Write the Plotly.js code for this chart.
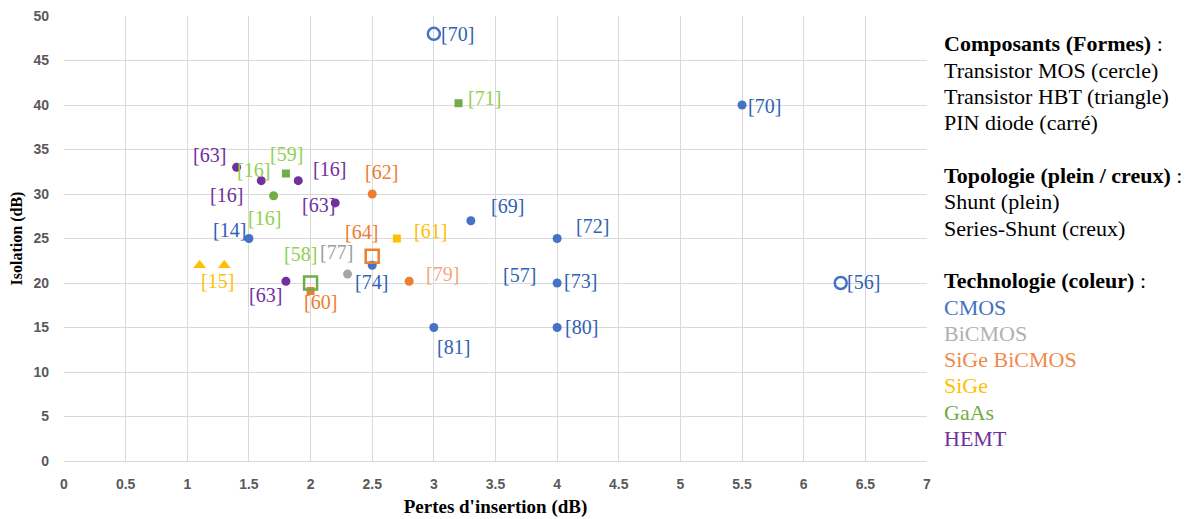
<!DOCTYPE html>
<html>
<head>
<meta charset="utf-8">
<script src="https://cdn.plot.ly/plotly-3.0.1.min.js"></script>
<style>html,body{margin:0;padding:0;background:#fff;}#chart{width:1192px;height:519px;}</style>
</head>
<body>
<div id="chart"></div>
<script>
// ---- Data ----
const pointX     = [3.0, 3.2, 5.5, 6.3, 1.4, 1.6, 1.8, 1.9, 1.7, 2.2, 2.5, 1.5, 2.7, 3.3, 2.5, 2.5, 2.3, 2.8, 2.0, 2.0, 1.8, 1.1, 1.3, 4.0, 4.0, 4.0, 3.0];
const pointY     = [48, 40.2, 40, 20, 33, 31.5, 32.3, 31.5, 29.8, 29, 30, 25, 25, 27, 23, 22, 21, 20.2, 20, 19.1, 20.2, 22, 22, 25, 20, 15, 15];
const pointTech  = ['CMOS','GaAs','CMOS','CMOS','HEMT','HEMT','GaAs','HEMT','GaAs','HEMT','SiGe BiCMOS','CMOS','SiGe','CMOS','SiGe BiCMOS','CMOS','BiCMOS','SiGe BiCMOS','GaAs','SiGe BiCMOS','HEMT','SiGe','SiGe','CMOS','CMOS','CMOS','CMOS'];
const pointShape = ['circle','square','circle','circle','circle','circle','square','circle','circle','circle','circle','circle','square','circle','square','circle','circle','circle','square','square','circle','triangle','triangle','circle','circle','circle','circle'];
const pointFill  = ['open','filled','filled','open','filled','filled','filled','filled','filled','filled','filled','filled','filled','filled','open','filled','filled','filled','open','filled','filled','filled','filled','filled','filled','filled','filled'];

const refText  = ['[70]','[71]','[70]','[56]','[63]','[16]','[59]','[16]','[62]','[16]','[63]','[69]','[14]','[16]','[64]','[61]','[72]','[58]','[77]','[74]','[79]','[15]','[63]','[60]','[57]','[73]','[80]','[81]'];
const refX     = [3.193, 3.412, 5.678, 6.486, 1.178, 1.535, 1.801, 2.153, 2.578, 1.319, 2.061, 3.594, 1.340, 1.630, 2.410, 2.976, 4.287, 1.915, 2.207, 2.497, 3.074, 1.243, 1.636, 2.077, 3.694, 4.189, 4.195, 3.160];
const refY     = [47.94, 40.74, 39.91, 20.11, 34.36, 32.68, 34.48, 32.76, 32.49, 29.94, 28.74, 28.63, 25.93, 27.31, 25.74, 25.85, 26.38, 23.31, 23.49, 20.11, 21.06, 20.22, 18.62, 17.86, 20.87, 20.19, 15.05, 12.80];
const refGroup = ['CMOS','GaAs','CMOS','CMOS','HEMT','GaAs','GaAs','HEMT','SiGe BiCMOS','HEMT','HEMT','CMOS','CMOS','GaAs','SiGe BiCMOS','SiGe','CMOS','GaAs','BiCMOS','CMOS','SiGe BiCMOS light','SiGe','HEMT','SiGe BiCMOS','CMOS','CMOS','CMOS','CMOS'];

const xTickVals = [0,0.5,1,1.5,2,2.5,3,3.5,4,4.5,5,5.5,6,6.5,7];
const xTickText = ['0','0.5','1','1.5','2','2.5','3','3.5','4','4.5','5','5.5','6','6.5','7'];
const yTickVals = [0,5,10,15,20,25,30,35,40,45,50];
const yTickText = ['0','5','10','15','20','25','30','35','40','45','50'];

const keyLines = [
  ['Composants (Formes)', 'head'],
  ['Transistor MOS (cercle)', 'text'],
  ['Transistor HBT (triangle)', 'text'],
  ['PIN diode (carré)', 'text'],
  ['', 'blank'],
  ['Topologie (plein / creux)', 'head'],
  ['Shunt (plein)', 'text'],
  ['Series-Shunt (creux)', 'text'],
  ['', 'blank'],
  ['Technologie (coleur)', 'head'],
  ['CMOS', 'CMOS'],
  ['BiCMOS', 'BiCMOS'],
  ['SiGe BiCMOS', 'SiGe BiCMOS'],
  ['SiGe', 'SiGe'],
  ['GaAs', 'GaAs'],
  ['HEMT', 'HEMT']
];

// ---- Styles ----
const markerColor = {'CMOS':'#4472c4','BiCMOS':'#a5a5a5','SiGe BiCMOS':'#ed7d31','SiGe':'#ffc000','GaAs':'#70ad47','HEMT':'#7030a0'};
const labelColor  = {'CMOS':'#2f62b6','BiCMOS':'#9e9e9e','SiGe BiCMOS':'#ed7d31','SiGe BiCMOS light':'#f6a57c','SiGe':'#ffc000','GaAs':'#92d050','HEMT':'#7030a0'};
const keyColor    = {'CMOS':'#4472c4','BiCMOS':'#b0b0b0','SiGe BiCMOS':'#f08a4b','SiGe':'#ffc000','GaAs':'#70ad47','HEMT':'#7030a0'};
const symbolOf = {circle:'circle', square:'square', triangle:'triangle-up'};
const sizeOf = {'circle|filled':9,'circle|open':12,'square|filled':8,'square|open':13,'triangle|filled':11};

// ---- Build traces grouped by (tech, shape, fill) ----
const groups = {};
const order = [];
for (let i = 0; i < pointX.length; i++) {
  const k = pointTech[i] + '|' + pointShape[i] + '|' + pointFill[i];
  if (!groups[k]) { groups[k] = {x:[], y:[], tech:pointTech[i], shape:pointShape[i], fill:pointFill[i]}; order.push(k); }
  groups[k].x.push(pointX[i]);
  groups[k].y.push(pointY[i]);
}
order.sort((a,b) => (groups[a].fill === 'open') - (groups[b].fill === 'open'));
const traces = order.map(k => {
  const g = groups[k];
  const open = g.fill === 'open';
  return {
    type:'scatter', mode:'markers', x:g.x, y:g.y, showlegend:false, hoverinfo:'x+y',
    marker:{
      symbol: symbolOf[g.shape] + (open ? '-open' : ''),
      size: sizeOf[g.shape + '|' + g.fill],
      color: markerColor[g.tech],
      line: {width: open ? 2.5 : 0, color: markerColor[g.tech]}
    },
    cliponaxis:false
  };
});

// ---- Annotations: reference labels ----
const annotations = refText.map((t, i) => ({
  x: refX[i], y: refY[i], xref:'x', yref:'y', text: t, showarrow:false,
  xanchor:'center', yanchor:'middle',
  font:{family:'"Liberation Serif", "Times New Roman", serif', size:20, color: labelColor[refGroup[i]]}
}));

// ---- Key text on the right ----
const plotL = 64, plotT = 16, plotW = 1192 - 64 - 265, plotH = 519 - 16 - 58;
keyLines.forEach((ln, i) => {
  if (ln[1] === 'blank') return;
  const py = 44 + i * 26.3;
  const head = ln[1] === 'head';
  const col = (ln[1] === 'head' || ln[1] === 'text') ? '#000000' : keyColor[ln[1]];
  annotations.push({
    xref:'paper', yref:'paper', x:(942 - plotL) / plotW, y:(plotT + plotH - py) / plotH,
    xanchor:'left', yanchor:'middle', showarrow:false,
    text: head ? ('<b>' + ln[0] + '</b> :') : ln[0],
    font:{family:'"Liberation Serif", "Times New Roman", serif', size:22, color:col}
  });
});

const layout = {
  width:1192, height:519,
  margin:{l:64, r:265, t:16, b:58, pad:0},
  paper_bgcolor:'#ffffff', plot_bgcolor:'#ffffff',
  showlegend:false,
  xaxis:{
    range:[0,7], tickvals:xTickVals, ticktext:xTickText,
    showgrid:true, gridcolor:'#d9d9d9', gridwidth:1, zeroline:false,
    showline:true, linecolor:'#d9d9d9', linewidth:1, mirror:false,
    ticks:'', ticklabelstandoff:10,
    tickfont:{family:'"Liberation Sans", Arial, sans-serif', size:14, color:'#595959', weight:'bold'},
    title:{text:"<b>Pertes d'insertion (dB)</b>", standoff:8,
      font:{family:'"Liberation Serif", "Times New Roman", serif', size:19, color:'#000000'}}
  },
  yaxis:{
    range:[0,50], tickvals:yTickVals, ticktext:yTickText,
    showgrid:true, gridcolor:'#d9d9d9', gridwidth:1, zeroline:false,
    showline:false,
    ticks:'', ticklabelstandoff:14,
    tickfont:{family:'"Liberation Sans", Arial, sans-serif', size:14, color:'#595959', weight:'bold'},
    title:{text:'<b>Isolation (dB)</b>', standoff:6,
      font:{family:'"Liberation Serif", "Times New Roman", serif', size:16, color:'#000000'}}
  },
  annotations: annotations
};

Plotly.newPlot('chart', traces, layout, {displayModeBar:false, staticPlot:true});
</script>
</body>
</html>
